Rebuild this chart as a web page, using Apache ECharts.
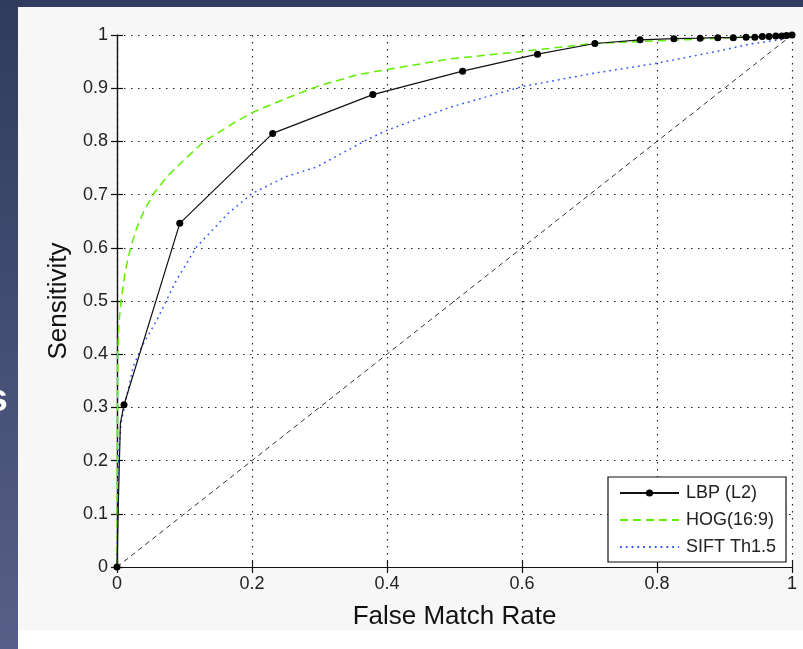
<!DOCTYPE html>
<html>
<head>
<meta charset="utf-8">
<script src="https://cdn.jsdelivr.net/npm/echarts@6/dist/echarts.min.js"></script>
<style>html,body{margin:0;padding:0;background:#fff;}#c{width:803px;height:649px;}</style>
</head>
<body>
<div id="c"></div>
<script>
// ---- data ----
const xTicks = [0, 0.2, 0.4, 0.6, 0.8, 1];
const yTicks = [0, 0.1, 0.2, 0.3, 0.4, 0.5, 0.6, 0.7, 0.8, 0.9, 1];
const seriesNames = ['LBP (L2)', 'HOG(16:9)', 'SIFT Th1.5'];
const xLabel = 'False Match Rate';
const yLabel = 'Sensitivity';

// LBP (L2)
const lbpX = [0, 0.002, 0.005, 0.0104, 0.093, 0.2306, 0.379, 0.512, 0.623, 0.708, 0.775, 0.825, 0.864, 0.890, 0.913, 0.932, 0.945, 0.956, 0.966, 0.976, 0.985, 0.992, 1];
const lbpY = [0, 0.12, 0.27, 0.305, 0.646, 0.815, 0.888, 0.932, 0.964, 0.984, 0.991, 0.993, 0.994, 0.995, 0.995, 0.996, 0.996, 0.997, 0.997, 0.998, 0.998, 0.999, 1];
const lbpMarker = [1, 0, 0, 1, 1, 1, 1, 1, 1, 1, 1, 1, 1, 1, 1, 1, 1, 1, 1, 1, 1, 1, 1];

// HOG(16:9)
const hogX = [0, 0.0005, 0.001, 0.003, 0.006, 0.012, 0.02, 0.03, 0.042, 0.056, 0.075, 0.095, 0.128, 0.172, 0.2, 0.251, 0.296, 0.355, 0.4, 0.493, 0.6, 0.705, 0.8, 0.913, 1];
const hogY = [0, 0.2, 0.4, 0.46, 0.5, 0.555, 0.6, 0.64, 0.675, 0.705, 0.735, 0.76, 0.799, 0.834, 0.854, 0.881, 0.903, 0.925, 0.935, 0.955, 0.969, 0.984, 0.989, 0.995, 1];

// SIFT Th1.5
const siftX = [0, 0.001, 0.003, 0.006, 0.012, 0.024, 0.0365, 0.059, 0.088, 0.118, 0.165, 0.2, 0.251, 0.296, 0.37, 0.4, 0.493, 0.6, 0.706, 0.8, 0.888, 0.938, 0.987, 1];
const siftY = [0, 0.15, 0.22, 0.27, 0.307, 0.376, 0.414, 0.464, 0.539, 0.602, 0.665, 0.702, 0.734, 0.752, 0.803, 0.821, 0.864, 0.903, 0.928, 0.947, 0.969, 0.983, 0.992, 1];

// chance diagonal
const chanceX = [0, 1];
const chanceY = [0, 1];

// ---- build ----
const FONT = '"Liberation Sans", Arial, Helvetica, sans-serif';
const zip = (xs, ys) => xs.map((x, i) => [x, ys[i]]);
const lbpData = lbpX.map((x, i) => lbpMarker[i] ? [x, lbpY[i]] : { value: [x, lbpY[i]], symbol: 'none' });

const chart = echarts.init(document.getElementById('c'), null, { renderer: 'canvas' });

const gridLine = { show: true, lineStyle: { color: '#222', width: 1.2, type: [1.5, 5.5] } };
const axisLineS = { show: true, lineStyle: { color: '#111', width: 1.2 } };
const tickS = { show: true, inside: true, length: 6, lineStyle: { color: '#111', width: 1.2 } };
const lblS = { color: '#222', fontSize: 18, fontFamily: FONT };

chart.setOption({
  animation: false,
  backgroundColor: 'transparent',
  graphic: [
    { type: 'rect', z: -10, shape: { x: 0, y: 0, width: 803, height: 649 },
      style: { fill: new echarts.graphic.LinearGradient(0, 0, 0, 1, [{ offset: 0, color: '#303b5e' }, { offset: 1, color: '#575f88' }]) } },
    { type: 'rect', z: -9, shape: { x: 18, y: 7, width: 785, height: 623 }, style: { fill: '#f7f7f7' } },
    { type: 'rect', z: -9, shape: { x: 18, y: 630, width: 785, height: 19 }, style: { fill: '#ffffff' } },
    { type: 'text', z: -8, x: 8, y: 420, style: { text: 's', fill: '#ffffff', font: 'bold 38px ' + FONT, textAlign: 'right', textVerticalAlign: 'bottom' } }
  ],
  grid: { left: 117, right: 11, top: 35, bottom: 82, show: true, backgroundColor: '#ffffff', borderWidth: 0 },
  legend: {
    data: [
      { name: seriesNames[0] },
      { name: seriesNames[1], itemStyle: { opacity: 0 } },
      { name: seriesNames[2], itemStyle: { opacity: 0 } }
    ],
    orient: 'vertical',
    left: 608, top: 477,
    padding: [7, 10, 6, 11],
    itemWidth: 59, itemHeight: 9, itemGap: 9,
    backgroundColor: '#ffffff',
    borderColor: '#111', borderWidth: 1.2, borderRadius: 0,
    textStyle: { color: '#222', fontSize: 18, fontFamily: FONT, padding: [0, 0, 0, 2], lineHeight: 18 },
    selectedMode: false
  },
  xAxis: [
    { type: 'value', min: 0, max: 1, interval: 0.2, position: 'bottom',
      name: xLabel, nameLocation: 'middle', nameGap: 37,
      nameTextStyle: { color: '#111', fontSize: 26, fontFamily: FONT },
      axisLine: axisLineS, axisTick: tickS, splitLine: gridLine,
      axisLabel: Object.assign({ margin: 8 }, lblS) },
    { type: 'value', min: 0, max: 1, interval: 0.2, position: 'top',
      axisLine: axisLineS, axisTick: tickS, splitLine: { show: false }, axisLabel: { show: false } }
  ],
  yAxis: [
    { type: 'value', min: 0, max: 1, interval: 0.1, position: 'left',
      name: yLabel, nameLocation: 'middle', nameGap: 43,
      nameTextStyle: { color: '#111', fontSize: 26, fontFamily: FONT },
      axisLine: axisLineS, axisTick: tickS, splitLine: gridLine,
      axisLabel: Object.assign({ margin: 9 }, lblS) },
    { type: 'value', min: 0, max: 1, interval: 0.1, position: 'right',
      axisLine: axisLineS, axisTick: tickS, splitLine: { show: false }, axisLabel: { show: false } }
  ],
  series: [
    { name: 'chance', type: 'line', data: zip(chanceX, chanceY), symbol: 'none', silent: true,
      lineStyle: { color: '#333', width: 1, type: [5, 4] }, z: 2 },
    { name: seriesNames[2], type: 'line', data: zip(siftX, siftY), symbol: 'none',
      itemStyle: { color: '#3355ff' },
      lineStyle: { color: '#3355ff', width: 1.5, type: [1.8, 4] }, z: 3 },
    { name: seriesNames[1], type: 'line', data: zip(hogX, hogY), symbol: 'none',
      itemStyle: { color: '#5ef000' },
      lineStyle: { color: '#5ef000', width: 1.5, type: [8, 5] }, z: 4 },
    { name: seriesNames[0], type: 'line', data: lbpData, symbol: 'circle', symbolSize: 7,
      itemStyle: { color: '#000' },
      lineStyle: { color: '#111', width: 1.2 }, z: 5 }
  ]
});
</script>
</body>
</html>
